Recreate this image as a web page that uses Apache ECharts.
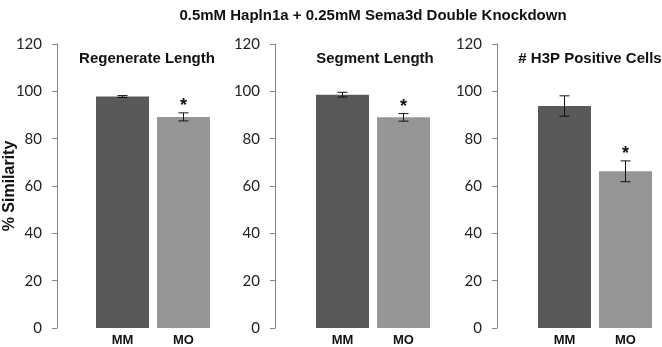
<!DOCTYPE html>
<html>
<head>
<meta charset="utf-8">
<script src="https://cdn.jsdelivr.net/npm/echarts@6/dist/echarts.min.js"></script>
<style>
  html, body { margin: 0; padding: 0; background: #fff; }
  #chart { width: 662px; height: 347px; }
</style>
</head>
<body>
<div id="chart"></div>
<script>
// data
const categories = ['MM', 'MO']
const mainTitle = '0.5mM Hapln1a + 0.25mM Sema3d Double Knockdown'
const panelTitles = ['Regenerate Length', 'Segment Length', '# H3P Positive Cells']
const means = [[97.8, 89.2], [98.6, 89.0], [93.8, 66.2]]
const errors = [[0.4, 1.7], [1.0, 1.6], [4.3, 4.4]]
const significant = [[false, true], [false, true], [false, true]]
const yTicks = [0, 20, 40, 60, 80, 100, 120]

const barColors = ['#595959', '#969696']
const gridLeft = [92, 312, 534]
const axisOffset = [35, 37, 37]
const titleCenter = [142, 370, 585]

const myChart = echarts.init(document.getElementById('chart'))

let titleArr = [{
  text: mainTitle,
  left: 368,
  top: 3,
  textAlign: 'center',
  textStyle: { fontFamily: 'Liberation Sans', fontWeight: 'bold', fontSize: 15, color: '#111' }
}]
let grids = []
let xAxes = []
let yAxes = []
let seriesArr = []

panelTitles.forEach((name, i) => {
  titleArr.push({
    text: name,
    left: titleCenter[i],
    top: 46,
    textAlign: 'center',
    textStyle: { fontFamily: 'Liberation Sans', fontWeight: 'bold', fontSize: 15, color: '#111' }
  })
  grids.push({ left: gridLeft[i], width: 122, top: 44, bottom: 19, outerBoundsMode: 'none', containLabel: false })
  xAxes.push({
    type: 'category',
    gridIndex: i,
    data: categories,
    axisLine: { show: false },
    axisTick: { show: false },
    axisLabel: { margin: 6, fontFamily: 'Liberation Sans', fontWeight: 'bold', fontSize: 13, color: '#111' }
  })
  yAxes.push({
    type: 'value',
    gridIndex: i,
    min: yTicks[0],
    max: yTicks[yTicks.length - 1],
    interval: 20,
    offset: axisOffset[i],
    name: i === 0 ? '% Similarity' : '',
    nameLocation: 'middle',
    nameGap: 39,
    nameMoveOverlap: false,
    nameTextStyle: { fontFamily: 'Liberation Sans', fontWeight: 'bold', fontSize: 16, color: '#111' },
    axisLine: { show: true, lineStyle: { color: '#868686' } },
    axisTick: { show: true, length: 5, lineStyle: { color: '#868686' } },
    splitLine: { show: false },
    axisLabel: { margin: 15, fontFamily: 'Lato', fontSize: 15, color: '#222' }
  })
  seriesArr.push({
    type: 'bar',
    xAxisIndex: i,
    yAxisIndex: i,
    barWidth: 53,
    data: means[i].map((v, k) => ({ value: v, itemStyle: { color: barColors[k] } })),
    silent: true
  })
  seriesArr.push({
    type: 'custom',
    xAxisIndex: i,
    yAxisIndex: i,
    z: 10,
    data: means[i].map((v, k) => [k, v - errors[i][k], v + errors[i][k], significant[i][k] ? 1 : 0]),
    renderItem: (params, api) => {
      const low = api.coord([api.value(0), api.value(1)])
      const high = api.coord([api.value(0), api.value(2)])
      const x = low[0]
      const w = 5
      const style = { stroke: '#111', lineWidth: 1 }
      const children = [
        { type: 'line', shape: { x1: x, y1: low[1], x2: x, y2: high[1] }, style },
        { type: 'line', shape: { x1: x - w, y1: low[1], x2: x + w, y2: low[1] }, style },
        { type: 'line', shape: { x1: x - w, y1: high[1], x2: x + w, y2: high[1] }, style }
      ]
      if (api.value(3)) {
        children.push({
          type: 'text',
          style: {
            text: '*',
            x: x,
            y: high[1] - 16,
            align: 'center',
            verticalAlign: 'top',
            font: 'bold 18px "Liberation Sans"',
            fill: '#111'
          }
        })
      }
      return { type: 'group', children }
    }
  })
})

const option = {
  animation: false,
  backgroundColor: '#fff',
  title: titleArr,
  grid: grids,
  xAxis: xAxes,
  yAxis: yAxes,
  series: seriesArr
}
myChart.setOption(option)
window.addEventListener('resize', () => {
  myChart.resize()
})
</script>
</body>
</html>
